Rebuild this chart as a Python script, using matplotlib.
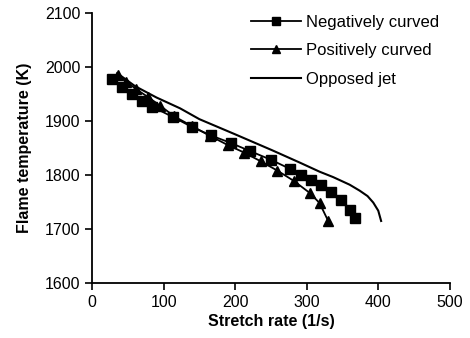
import matplotlib
matplotlib.use("Agg")
import matplotlib.pyplot as plt
import numpy as np

plt.rcParams['font.family'] = ['Liberation Sans', 'DejaVu Sans']

# negatively curved flame: stretch rate (1/s) and flame temperature (K)
neg_rate = [28, 42, 56, 70, 84, 113, 139, 166, 194, 221, 250, 277, 292, 306, 320, 334, 348, 361, 367]
neg_temp = [1978, 1963, 1949, 1937, 1926, 1907, 1889, 1873, 1859, 1844, 1828, 1811, 1800, 1791, 1782, 1769, 1754, 1736, 1720]

# positively curved flame
pos_rate = [36, 48, 62, 78, 95, 115, 140, 165, 190, 213, 236, 259, 282, 305, 318, 330]
pos_temp = [1985, 1972, 1958, 1944, 1928, 1908, 1890, 1872, 1855, 1841, 1825, 1808, 1789, 1766, 1748, 1715]

# opposed jet reference curve
jet_rate = [35, 60, 90, 123, 150, 200, 251, 290, 318, 337, 360, 374, 385, 393, 400, 404]
jet_temp = [1988, 1964, 1943, 1923, 1903, 1875, 1846, 1823, 1806, 1796, 1782, 1771, 1761, 1749, 1734, 1715]

fig = plt.figure(figsize=(4.7, 3.38), dpi=100)
ax = fig.add_axes([0.196, 0.162, 0.761, 0.801])

ax.plot(neg_rate, neg_temp, color='black', lw=1.3, marker='s', markersize=7.5,
        label='Negatively curved')
ax.plot(pos_rate, pos_temp, color='black', lw=1.3, marker='^', markersize=7.5,
        label='Positively curved')
ax.plot(jet_rate, jet_temp, color='black', lw=1.5, label='Opposed jet')

ax.set_xlim(0, 500)
ax.set_ylim(1600, 2100)
ax.set_xticks(np.arange(0, 501, 100))
ax.set_yticks(np.arange(1600, 2101, 100))
ax.spines['top'].set_visible(False)
ax.spines['right'].set_visible(False)
ax.spines['left'].set_linewidth(1.3)
ax.spines['bottom'].set_linewidth(1.3)
ax.tick_params(direction='out', length=5, width=1.2, labelsize=11.5)

ax.set_xlabel('Stretch rate (1/s)', fontsize=11.5, fontweight='bold', labelpad=3)
ax.set_ylabel('Flame temperature (K)', fontsize=11.5, fontweight='bold', labelpad=9)

ax.legend(loc='upper left', bbox_to_anchor=(0.503, 1.0), bbox_transform=fig.transFigure,
          frameon=False, fontsize=12, handlelength=3.0, labelspacing=0.8,
          handletextpad=0.3, markerscale=0.8)

fig.savefig('out.png', dpi=100)
